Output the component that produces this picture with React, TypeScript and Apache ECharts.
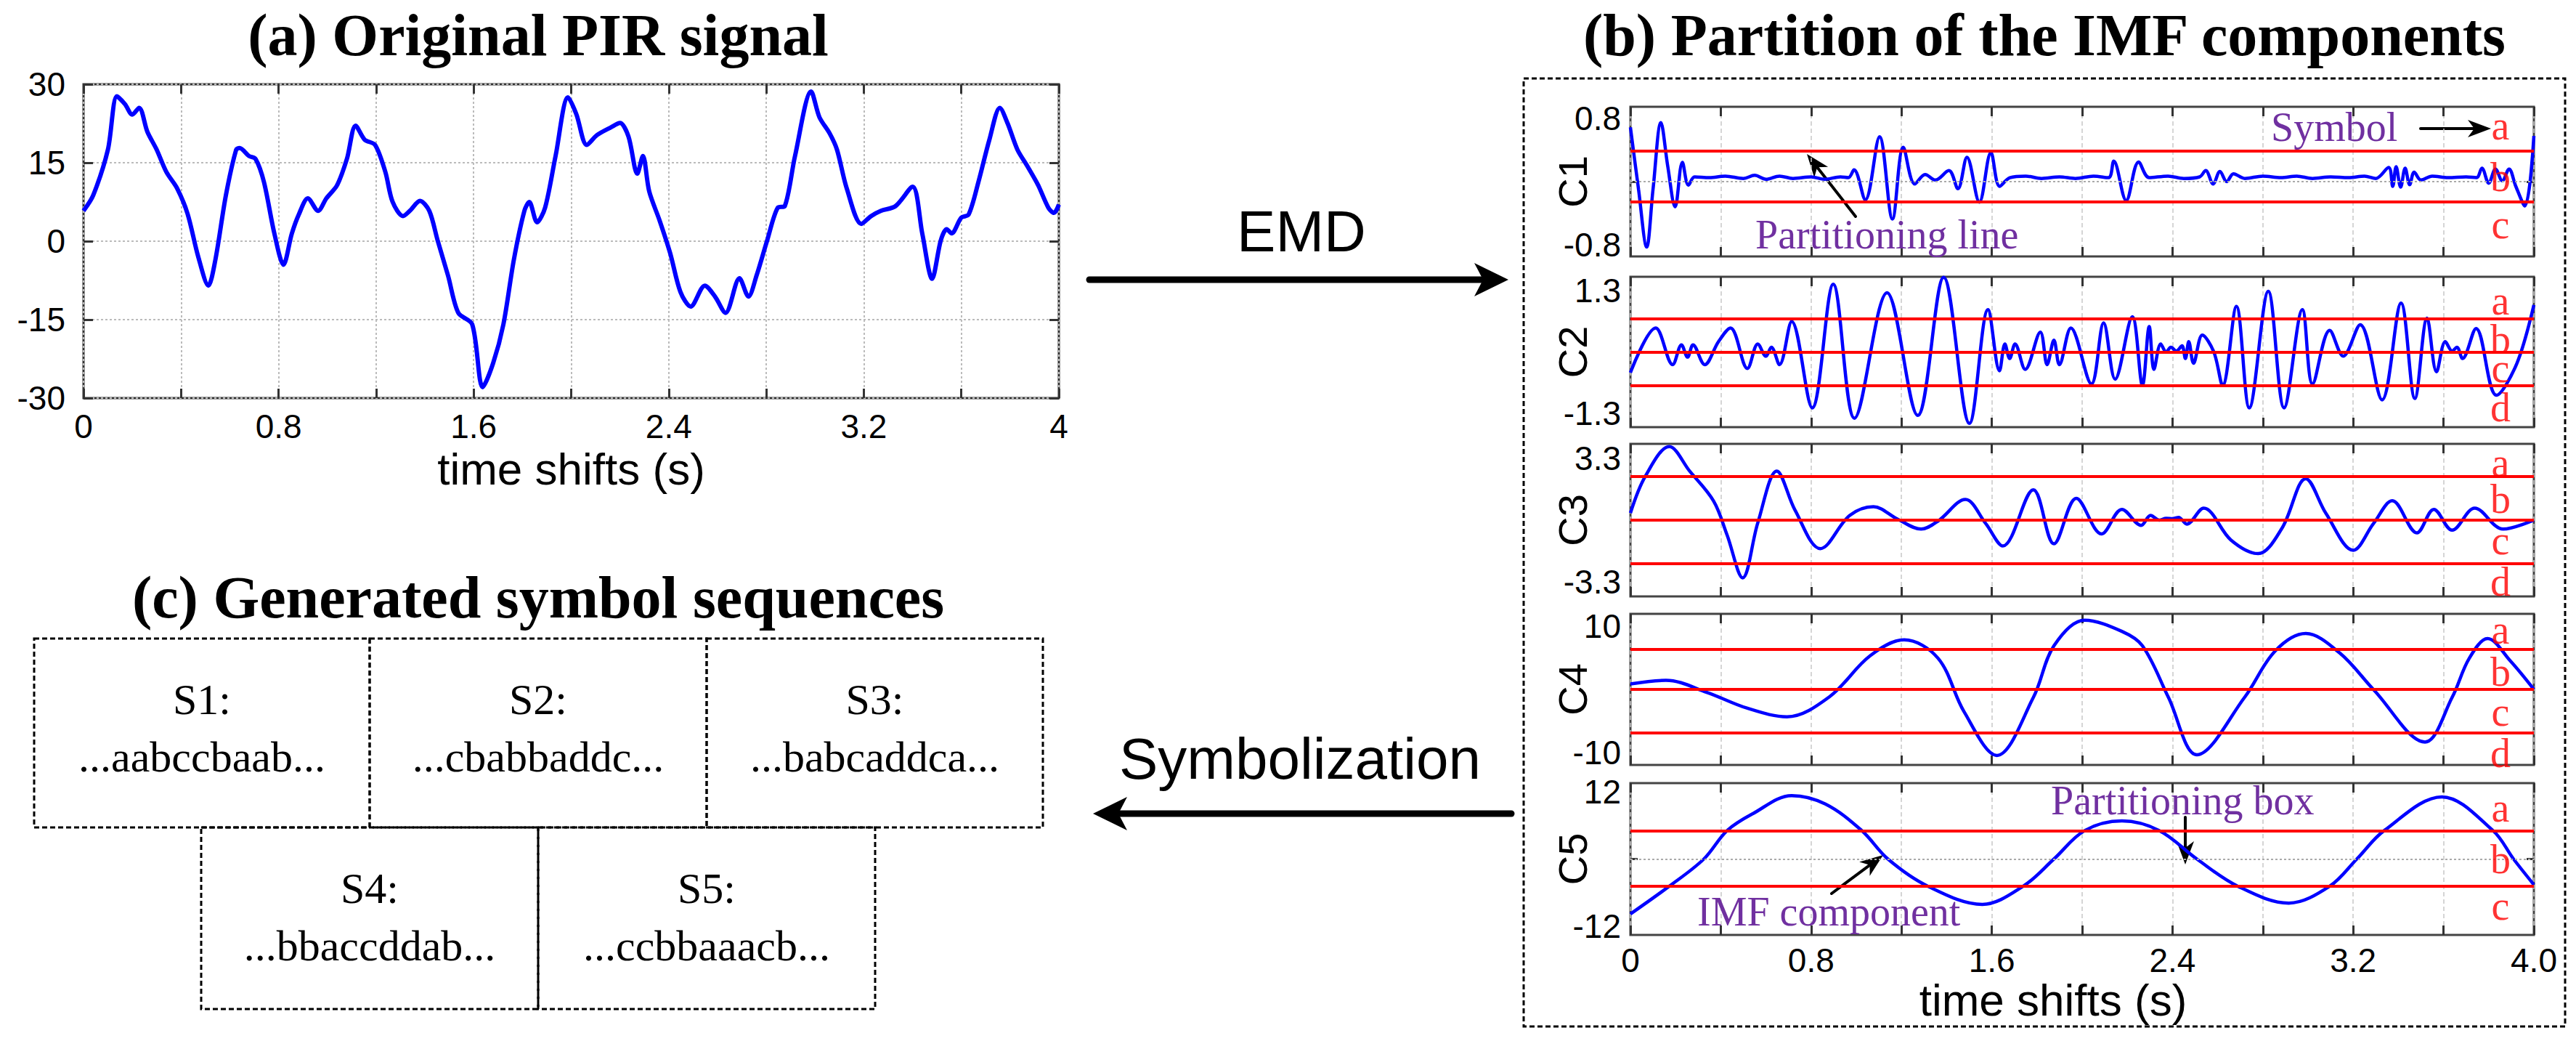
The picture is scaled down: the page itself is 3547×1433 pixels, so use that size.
import React, { useEffect, useRef } from "react";
import * as echarts from "echarts";

// ---------------- data ----------------
const pirSignal: number[][] = [
  [0, 5.8], [0.04, 8.8], [0.1, 17.5], [0.137, 27.7], [0.17, 26.2], [0.2, 24.2], [0.228, 25.5],
  [0.262, 20.9], [0.3, 17.5], [0.34, 13.2], [0.384, 10.1], [0.427, 5.2], [0.47, -2.9], [0.512, -8.5],
  [0.541, -3.5], [0.584, 8.8], [0.626, 17.5], [0.64, 17.8], [0.678, 16.3], [0.706, 15.7], [0.74, 11.3],
  [0.783, 1.4], [0.82, -4.5], [0.854, 1.4], [0.883, 5.1], [0.92, 8.2], [0.962, 5.8], [0.996, 8.2],
  [1.04, 10.7], [1.08, 15.7], [1.116, 22.1], [1.153, 19.4], [1.196, 18.4], [1.238, 13.2], [1.267, 7.6],
  [1.31, 4.8], [1.338, 5.8], [1.38, 7.7], [1.418, 5.8], [1.452, 0.2], [1.495, -6.6], [1.537, -13.7],
  [1.594, -15.9], [1.637, -27.9], [1.68, -23.3], [1.722, -15.9], [1.765, -3.5], [1.808, 5.8],
  [1.828, 7.5], [1.86, 3.6], [1.893, 6.4], [1.936, 16.3], [1.987, 27.5], [2.021, 24.3], [2.064, 18.4],
  [2.106, 20.3], [2.164, 21.8], [2.2, 22.6], [2.235, 20], [2.271, 12.9], [2.294, 16.3], [2.32, 9.5],
  [2.363, 3.9], [2.406, -2.3], [2.448, -9.7], [2.49, -12.5], [2.548, -8.5], [2.59, -10.6],
  [2.633, -13.7], [2.69, -7.1], [2.727, -10.6], [2.76, -6.6], [2.804, 0.2], [2.847, 6.4], [2.876, 6.7],
  [2.918, 16.3], [2.984, 28.6], [3.018, 23.7], [3.06, 20.6], [3.09, 17.5], [3.13, 10.1], [3.19, 3.3],
  [3.23, 4.8], [3.27, 5.8], [3.33, 6.7], [3.4, 10.4], [3.44, 1.4], [3.48, -7.2], [3.516, 0.2],
  [3.54, 2.3], [3.56, 1.5], [3.6, 4.5], [3.63, 5.1], [3.67, 11.3], [3.715, 19.4], [3.758, 25.5],
  [3.79, 22.5], [3.83, 17.5], [3.87, 14.4], [3.915, 10.7], [3.957, 6.4], [3.98, 5.4], [4, 7],
];

const imfC1: number[][] = [
  [0, 0.69], [0.036, -0.1], [0.072, -0.83], [0.1, -0.1], [0.135, 0.75], [0.165, 0.2], [0.198, -0.32],
  [0.23, 0.245], [0.257, -0.046], [0.284, 0.06], [0.35, 0.05], [0.42, 0.07], [0.5, 0.04], [0.55, 0.08],
  [0.6, 0.03], [0.66, 0.07], [0.72, 0.04], [0.8, 0.06], [0.86, 0.03], [0.93, 0.06], [0.965, 0.05],
  [0.99, 0.15], [1.04, -0.23], [1.103, 0.57], [1.16, -0.475], [1.208, 0.435], [1.259, -0.03],
  [1.305, 0.09], [1.35, 0.02], [1.41, 0.14], [1.45, -0.09], [1.49, 0.31], [1.545, -0.26], [1.596, 0.37],
  [1.635, -0.06], [1.68, 0.05], [1.75, 0.07], [1.82, 0.04], [1.9, 0.06], [1.97, 0.04], [2.05, 0.07],
  [2.117, 0.05], [2.14, 0.26], [2.195, -0.24], [2.25, 0.25], [2.297, 0.05], [2.38, 0.07], [2.45, 0.04],
  [2.52, 0.06], [2.547, 0.14], [2.58, -0.03], [2.61, 0.13], [2.64, 0.0], [2.67, 0.1], [2.72, 0.04],
  [2.8, 0.07], [2.88, 0.05], [2.95, 0.07], [3.02, 0.04], [3.1, 0.06], [3.18, 0.05], [3.25, 0.07],
  [3.3, 0.04], [3.357, 0.18], [3.375, -0.06], [3.39, 0.19], [3.41, -0.07], [3.43, 0.17], [3.45, -0.04],
  [3.47, 0.12], [3.5, 0.02], [3.55, 0.07], [3.62, 0.05], [3.7, 0.06], [3.746, 0.05], [3.77, 0.17],
  [3.8, -0.02], [3.83, 0.16], [3.86, 0.01], [3.89, 0.16], [3.92, -0.06], [3.96, -0.31], [4, 0.58],
];

const imfC2: number[][] = [
  [0, -0.44], [0.112, 0.51], [0.187, -0.27], [0.226, 0.15], [0.253, -0.11], [0.277, 0.15], [0.329, -0.27],
  [0.39, 0.22], [0.443, 0.51], [0.518, -0.35], [0.564, 0.17], [0.6, -0.09], [0.624, 0.1], [0.66, -0.27],
  [0.714, 0.65], [0.805, -1.19], [0.898, 1.44], [0.992, -1.41], [1.136, 1.26], [1.272, -1.35],
  [1.387, 1.59], [1.501, -1.52], [1.583, 0.9], [1.634, -0.4], [1.658, 0.17], [1.679, -0.14],
  [1.703, 0.17], [1.748, -0.37], [1.815, 0.42], [1.845, -0.27], [1.875, 0.25], [1.899, -0.27],
  [1.95, 0.51], [2.041, -0.68], [2.095, 0.62], [2.146, -0.58], [2.222, 0.75], [2.267, -0.71],
  [2.297, 0.54], [2.318, -0.37], [2.348, 0.17], [2.372, 0], [2.393, 0.1], [2.417, 0.02], [2.442, 0.13],
  [2.457, -0.14], [2.472, 0.22], [2.493, -0.24], [2.532, 0.36], [2.583, 0], [2.622, -0.71],
  [2.683, 0.97], [2.74, -1.19], [2.824, 1.29], [2.894, -1.19], [2.975, 0.9], [3.02, -0.68],
  [3.096, 0.46], [3.156, -0.09], [3.231, 0.58], [3.328, -1.02], [3.412, 1.04], [3.473, -0.99],
  [3.527, 0.72], [3.569, -0.42], [3.608, 0.22], [3.638, 0.02], [3.659, 0.1], [3.684, -0.14],
  [3.744, 0.5], [3.834, -0.92], [3.925, -0.24], [4, 1.0],
];

const imfC3: number[][] = [
  [0, 0.38], [0.066, 2.36], [0.172, 3.95], [0.262, 2.64], [0.368, 1.03], [0.428, -0.8], [0.497, -3.1],
  [0.564, -0.14], [0.648, 2.64], [0.729, 0.53], [0.841, -1.53], [0.971, 0.25], [1.076, 0.72],
  [1.182, 0.06], [1.287, -0.48], [1.362, -0.05], [1.483, 1.11], [1.573, -0.18], [1.649, -1.39],
  [1.784, 1.63], [1.875, -1.27], [1.974, 1.17], [2.086, -0.74], [2.176, 0.58], [2.261, -0.28],
  [2.303, 0.25], [2.342, 0.0], [2.372, 0.1], [2.402, 0.08], [2.427, 0.15], [2.463, -0.21],
  [2.538, 0.64], [2.659, -1.07], [2.779, -1.8], [2.885, -0.43], [2.99, 2.23], [3.08, 0.35],
  [3.2, -1.62], [3.29, -0.18], [3.373, 1.04], [3.482, -0.68], [3.557, 0.58], [3.638, -0.54],
  [3.738, 0.64], [3.864, -0.48], [4, 0],
];

const imfC4: number[][] = [
  [0, 0.86], [0.157, 1.43], [0.338, -0.46], [0.518, -2.97], [0.693, -4.31], [0.88, -1.2], [1.061, 5.29],
  [1.212, 7.8], [1.362, 4.91], [1.477, -3.5], [1.622, -10.4], [1.784, -1.26], [1.875, 6.86],
  [2.011, 10.9], [2.176, 9.14], [2.267, 6.86], [2.382, -1.26], [2.508, -10.3], [2.719, -1.26],
  [2.855, 6.06], [2.99, 8.8], [3.141, 5.71], [3.292, -0.11], [3.518, -8.3], [3.638, -1.26],
  [3.714, 4.91], [3.795, 8.0], [3.895, 4.51], [4, 0],
];

const imfC5: number[][] = [
  [0, -9.84], [0.172, -4.87], [0.325, 0], [0.428, 5.09], [0.541, 8.1], [0.714, 11.36], [0.863, 9.85],
  [1.024, 5.1], [1.14, 0], [1.317, -4.87], [1.558, -8.12], [1.739, -4.87], [1.875, 0], [2.011, 5.09],
  [2.176, 6.82], [2.342, 5.09], [2.508, 0], [2.689, -4.87], [2.915, -7.9], [3.096, -4.87], [3.216, 0],
  [3.337, 5.09], [3.593, 11.14], [3.819, 5.09], [3.91, 0], [4, -4.6],
];

const imfSeries = [imfC1, imfC2, imfC3, imfC4, imfC5];
const imfNames = ["C1", "C2", "C3", "C4", "C5"];
const imfLimits = [0.95, 1.6, 4.1, 11.9, 13.6];
const imfTickValues = [0.8, 1.3, 3.3, 10, 12];
const imfPartitions = [[0.386, -0.257], [0.71, 0, -0.72], [2.34, 0, -2.34], [6.3, 0, -6.8], [5.0, -4.9]];
const imfSymbols = [["a", "b", "c"], ["a", "b", "c", "d"], ["a", "b", "c", "d"], ["a", "b", "c", "d"], ["a", "b", "c"]];
const imfSymbolLevels = [
  [0.71, 0.055, -0.54], [1.09, 0.27, -0.35, -1.18], [3.07, 1.15, -1.09, -3.32],
  [9.37, 2.79, -3.54, -10.06], [9.16, -0.06, -8.38],
];
const symbolTime = 3.852;
const timeTicksA = [0, 0.8, 1.6, 2.4, 3.2, 4];
const timeTicksB = [0, 0.8, 1.6, 2.4, 3.2, 4];
const sequenceNames = ["S1:", "S2:", "S3:", "S4:", "S5:"];
const sequenceTexts = ["...aabccbaab...", "...cbabbaddc...", "...babcaddca...", "...bbaccddab...", "...ccbbaaacb..."];

// ---------------- layout ----------------
const W = 3547;
const H = 1433;
const SANS = "'Liberation Sans', Arial, Helvetica, sans-serif";
const SERIF = "'Liberation Serif', 'Times New Roman', serif";
const PURPLE = "#7030A0";
const gridA = { left: 115, top: 116, width: 1343, height: 432 };
const gridsB = [
  { top: 147, height: 206 }, { top: 381, height: 207 }, { top: 611, height: 210 },
  { top: 845, height: 208 }, { top: 1078, height: 209 },
];
const B_LEFT = 2245;
const B_WIDTH = 1244;
const seqBoxes = [
  { x: 47, y: 879, w: 462, h: 260 }, { x: 509, y: 879, w: 464, h: 260 }, { x: 973, y: 879, w: 463, h: 260 },
  { x: 277, y: 1139, w: 464, h: 250 }, { x: 741, y: 1139, w: 464, h: 250 },
];

function arrow(x1: number, y1: number, x2: number, y2: number, lw: number, len: number, half: number) {
  const dx = x2 - x1, dy = y2 - y1;
  const L = Math.hypot(dx, dy);
  const ux = dx / L, uy = dy / L;
  const px = -uy, py = ux;
  const bx = x2 - ux * len, by = y2 - uy * len;
  const nx = x2 - ux * len * 0.72, ny = y2 - uy * len * 0.72;
  return [
    { type: "line", shape: { x1, y1, x2: nx, y2: ny }, style: { stroke: "#000", lineWidth: lw, lineCap: "round" } },
    {
      type: "polygon",
      shape: { points: [[x2, y2], [bx + px * half, by + py * half], [nx, ny], [bx - px * half, by - py * half]] },
      style: { fill: "#000" },
    },
  ];
}

function txt(text: string, x: number, y: number, size: number, family: string, opts: any = {}) {
  return {
    type: "text", x, y, z: 10,
    style: {
      text, fill: opts.fill || "#000", fontSize: size, fontFamily: family, fontWeight: opts.weight || "normal",
      align: opts.align || "center", verticalAlign: "middle",
    },
  };
}

function buildOption() {
  const tickStyle = { color: "#333", width: 3 };
  const noLine = { show: false, onZero: false };
  const grid: any[] = [{ ...gridA, show: true, borderColor: "#333", borderWidth: 3, backgroundColor: "transparent" }];
  gridsB.forEach((g) =>
    grid.push({ left: B_LEFT, width: B_WIDTH, top: g.top, height: g.height, show: true, borderColor: "#444", borderWidth: 3, backgroundColor: "transparent" })
  );
  const xAxis: any[] = [];
  const yAxis: any[] = [];
  const series: any[] = [];

  // ----- panel (a) -----
  xAxis.push({
    gridIndex: 0, type: "value", position: "bottom", min: 0, max: 4, interval: 0.4,
    axisLine: noLine,
    axisTick: { show: true, inside: true, length: 13, lineStyle: tickStyle },
    axisLabel: { customValues: timeTicksA, formatter: (v: number) => String(v), fontSize: 46, fontFamily: SANS, color: "#000", margin: 16 },
    splitLine: { show: true, lineStyle: { color: "#bbb", width: 2, type: [3, 3] } },
    name: "time shifts (s)", nameLocation: "middle", nameGap: 66,
    nameTextStyle: { fontSize: 62, fontFamily: SANS, color: "#000" },
  });
  xAxis.push({
    gridIndex: 0, type: "value", position: "top", min: 0, max: 4, interval: 0.4,
    axisLine: noLine, axisTick: { show: true, inside: true, length: 13, lineStyle: tickStyle },
    axisLabel: { show: false }, splitLine: { show: false },
  });
  yAxis.push({
    gridIndex: 0, type: "value", position: "left", min: -30, max: 30, interval: 15,
    axisLine: noLine, axisTick: { show: true, inside: true, length: 13, lineStyle: tickStyle },
    axisLabel: { fontSize: 46, fontFamily: SANS, color: "#000", margin: 25 },
    splitLine: { show: true, lineStyle: { color: "#bbb", width: 2, type: [3, 3] } },
  });
  yAxis.push({
    gridIndex: 0, type: "value", position: "right", min: -30, max: 30, interval: 15,
    axisLine: noLine, axisTick: { show: true, inside: true, length: 13, lineStyle: tickStyle },
    axisLabel: { show: false }, splitLine: { show: false },
  });
  series.push({
    type: "line", xAxisIndex: 0, yAxisIndex: 0, data: pirSignal, showSymbol: false, smooth: 0.3,
    lineStyle: { color: "#0000ff", width: 6 }, z: 3, silent: true,
  });

  // ----- panel (b) -----
  imfSeries.forEach((data, i) => {
    const gi = i + 1;
    const L = imfLimits[i];
    const last = i === imfSeries.length - 1;
    const xi = 2 + 2 * i;
    xAxis.push({
      gridIndex: gi, type: "value", position: "bottom", min: 0, max: 4, interval: 0.4,
      axisLine: noLine, axisTick: { show: true, inside: true, length: 13, lineStyle: tickStyle },
      axisLabel: last
        ? { customValues: timeTicksB, formatter: (v: number) => (v === 4 ? "4.0" : String(v)), fontSize: 46, fontFamily: SANS, color: "#000", margin: 12 }
        : { show: false },
      splitLine: { show: true, lineStyle: { color: "#c8c8c8", width: 1.5, type: [6, 4] } },
      ...(last
        ? { name: "time shifts (s)", nameLocation: "middle", nameGap: 56, nameTextStyle: { fontSize: 62, fontFamily: SANS, color: "#000", padding: [0, 80, 0, 0] } }
        : {}),
    });
    xAxis.push({
      gridIndex: gi, type: "value", position: "top", min: 0, max: 4, interval: 0.4,
      axisLine: noLine, axisTick: { show: true, inside: true, length: 13, lineStyle: tickStyle },
      axisLabel: { show: false }, splitLine: { show: false },
    });
    yAxis.push({
      gridIndex: gi, type: "value", position: "left", min: -L, max: L,
      axisLine: noLine,
      axisTick: { show: true, inside: true, length: 10, customValues: [0], lineStyle: tickStyle },
      axisLabel: { customValues: [-imfTickValues[i], imfTickValues[i]], formatter: (v: number) => String(v), fontSize: 46, fontFamily: SANS, color: "#000", margin: 13 },
      splitLine: { show: false },
      name: imfNames[i], nameLocation: "middle", nameRotate: 90, nameGap: 52, nameMoveOverlap: false,
      nameTextStyle: { fontSize: 56, fontFamily: SANS, color: "#000" },
    });
    yAxis.push({
      gridIndex: gi, type: "value", position: "right", min: -L, max: L,
      axisLine: noLine,
      axisTick: { show: true, inside: true, length: 10, customValues: [0], lineStyle: tickStyle },
      axisLabel: { show: false }, splitLine: { show: false },
    });
    // zero reference (dotted, under the curve)
    series.push({
      type: "line", xAxisIndex: xi, yAxisIndex: xi, data: [], z: 1, silent: true,
      markLine: { silent: true, symbol: "none", label: { show: false }, lineStyle: { color: "#aaa", width: 2, type: [3, 3] }, data: [{ yAxis: 0 }] },
    });
    series.push({
      type: "line", xAxisIndex: xi, yAxisIndex: xi, data, showSymbol: false, smooth: 0.35, silent: true,
      lineStyle: { color: "#0000ff", width: 4.5 }, z: 3,
      markLine: {
        silent: true, symbol: "none", label: { show: false },
        lineStyle: { color: "#ff0000", width: 4, type: "solid" },
        data: imfPartitions[i].map((v) => ({ yAxis: v })),
      },
    });
    series.push({
      type: "scatter", xAxisIndex: xi, yAxisIndex: xi, silent: true, z: 5,
      data: imfSymbols[i].map((s, k) => ({ name: s, value: [symbolTime, imfSymbolLevels[i][k]] })),
      symbolSize: 1, itemStyle: { color: "rgba(0,0,0,0)" },
      label: { show: true, position: "inside", formatter: "{b}", color: "#ff0000", fontSize: 56, lineHeight: 36, fontFamily: SERIF },
      labelLayout: { hideOverlap: false },
    });
  });

  // ----- graphics -----
  const g: any[] = [];
  g.push(txt("(a) Original PIR signal", 741, 48, 82, SERIF, { weight: "bold" }));
  g.push(txt("(b) Partition of the IMF components", 2815, 48, 82, SERIF, { weight: "bold" }));
  g.push(txt("(c) Generated symbol sequences", 741, 822, 82, SERIF, { weight: "bold" }));
  g.push(txt("EMD", 1792, 318, 80, SANS));
  g.push(txt("Symbolization", 1790, 1044, 80, SANS));
  // big arrows
  g.push({ type: "line", shape: { x1: 1500, y1: 385, x2: 2044, y2: 385 }, style: { stroke: "#000", lineWidth: 9, lineCap: "round" } });
  g.push({ type: "polygon", shape: { points: [[2077, 385], [2030, 362], [2042, 385], [2030, 408]] }, style: { fill: "#000" } });
  g.push({ type: "line", shape: { x1: 2081, y1: 1120, x2: 1538, y2: 1120 }, style: { stroke: "#000", lineWidth: 9, lineCap: "round" } });
  g.push({ type: "polygon", shape: { points: [[1505, 1120], [1552, 1097], [1540, 1120], [1552, 1143]] }, style: { fill: "#000" } });
  // panel (b) dashed frame
  g.push({ type: "rect", shape: { x: 2098, y: 108, width: 1434, height: 1305 }, style: { fill: "transparent", stroke: "#000", lineWidth: 3, lineDash: [7, 4] } });
  // annotations
  g.push(txt("Symbol", 3127, 175, 56, SERIF, { fill: PURPLE, align: "left" }));
  g.push(txt("Partitioning line", 2417, 323, 56, SERIF, { fill: PURPLE, align: "left" }));
  g.push(txt("Partitioning box", 2824, 1102, 56, SERIF, { fill: PURPLE, align: "left" }));
  g.push(txt("IMF component", 2337, 1255, 56, SERIF, { fill: PURPLE, align: "left" }));
  g.push(...arrow(3333, 177, 3430, 177, 4, 32, 12));
  g.push(...arrow(2555, 298, 2488, 212, 4, 32, 12));
  g.push(...arrow(3009, 1125, 3009, 1190, 4, 32, 12));
  g.push(...arrow(2522, 1230, 2593, 1177, 4, 32, 12));
  // panel (c) boxes
  seqBoxes.forEach((b, k) => {
    g.push({ type: "rect", shape: { x: b.x, y: b.y, width: b.w, height: b.h }, style: { fill: "transparent", stroke: "#000", lineWidth: 3, lineDash: [7, 4] } });
    g.push(txt(sequenceNames[k], b.x + b.w / 2, b.y + 84, 60, SERIF));
    g.push(txt(sequenceTexts[k], b.x + b.w / 2, b.y + 163, 60, SERIF));
  });

  return {
    animation: false,
    backgroundColor: "#ffffff",
    grid, xAxis, yAxis, series,
    graphic: { elements: g },
  };
}

export default function App() {
  const ref = useRef<HTMLDivElement>(null);
  useEffect(() => {
    if (!ref.current) return;
    const chart = echarts.init(ref.current, null, { renderer: "svg" });
    chart.setOption(buildOption() as any);
    return () => chart.dispose();
  }, []);
  return <div ref={ref} style={{ position: "fixed", left: 0, top: 0, width: W, height: H, background: "#fff" }} />;
}
